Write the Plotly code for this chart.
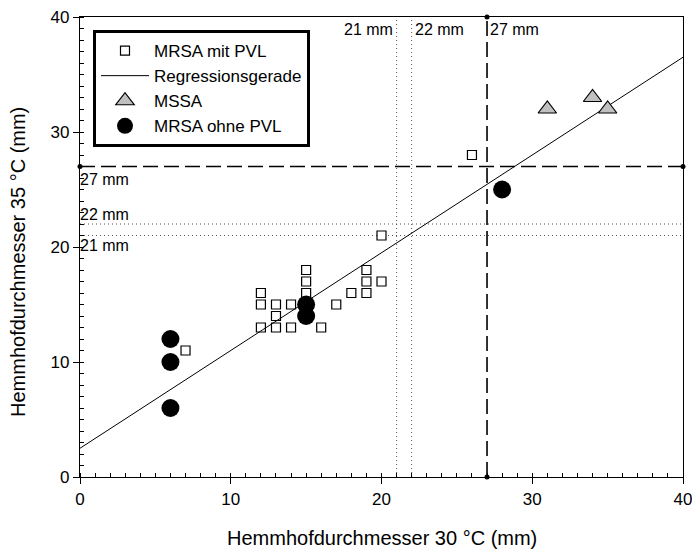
import plotly.graph_objects as go

# --- data ---
pvl_x = [7, 12, 12, 12, 13, 13, 13, 14, 14, 15, 15, 15, 15, 16, 17, 18, 19, 19, 19, 20, 20, 26]
pvl_y = [11, 16, 15, 13, 15, 14, 13, 15, 13, 18, 17, 16, 15, 13, 15, 16, 18, 17, 16, 21, 17, 28]
mssa_x = [31, 34, 35]
mssa_y = [32, 33, 32]
nopvl_x = [6, 6, 6, 15, 15, 28]
nopvl_y = [12, 10, 6, 15, 14, 25]
reg_x = [0, 40]
reg_y = [2.5, 36.5]
cut_dash = 27
cut_dot = [21, 22]
x_ticks = [0, 10, 20, 30, 40]
y_ticks = [0, 10, 20, 30, 40]

FONT = "Liberation Sans, Arial, sans-serif"

W, H = 692, 551
ML, MT, MR, MB = 80, 17, 9, 74
PW = W - ML - MR  # plot width in px
PH = H - MT - MB  # plot height in px


def px_to_paper_x(px):
    return (px - ML) / PW


def px_to_paper_y(py):
    return (MT + PH - py) / PH


fig = go.Figure()

# reference lines
fig.add_trace(go.Scatter(x=[cut_dash, cut_dash], y=[0, 40], mode="lines+markers",
                         line=dict(color="black", width=1.6, dash="15px,6px"),
                         marker=dict(size=5, color="black"), showlegend=False,
                         cliponaxis=False, hoverinfo="skip"))
fig.add_trace(go.Scatter(x=[0, 40], y=[cut_dash, cut_dash], mode="lines+markers",
                         line=dict(color="black", width=1.6, dash="15px,6px"),
                         marker=dict(size=5, color="black"), showlegend=False,
                         cliponaxis=False, hoverinfo="skip"))
for v in cut_dot:
    fig.add_trace(go.Scatter(x=[v, v], y=[0, 40], mode="lines",
                             line=dict(color="#555555", width=1, dash="1px,3px"),
                             showlegend=False, hoverinfo="skip"))
    fig.add_trace(go.Scatter(x=[0, 40], y=[v, v], mode="lines",
                             line=dict(color="#555555", width=1, dash="1px,3px"),
                             showlegend=False, hoverinfo="skip"))

fig.add_trace(go.Scatter(x=pvl_x, y=pvl_y, mode="markers", name="MRSA mit PVL",
                         marker=dict(symbol="square", size=9, color="white",
                                     line=dict(color="black", width=1.2))))
fig.add_trace(go.Scatter(x=reg_x, y=reg_y, mode="lines", name="Regressionsgerade",
                         line=dict(color="black", width=1)))
fig.add_trace(go.Scatter(x=mssa_x, y=mssa_y, mode="markers", name="MSSA",
                         marker=dict(symbol="triangle-up", size=16, color="#c0c0c0",
                                     line=dict(color="black", width=1.2))))
fig.add_trace(go.Scatter(x=nopvl_x, y=nopvl_y, mode="markers", name="MRSA ohne PVL",
                         marker=dict(symbol="circle", size=18, color="black",
                                     line=dict(color="black", width=0))))

ann_font = dict(family=FONT, size=16, color="black")
annotations = [
    dict(x=21, y=38.9, text="21 mm", xanchor="right", yanchor="middle", showarrow=False, font=ann_font, xshift=-2),
    dict(x=22, y=38.9, text="22 mm", xanchor="left", yanchor="middle", showarrow=False, font=ann_font, xshift=1),
    dict(x=27, y=38.9, text="27 mm", xanchor="left", yanchor="middle", showarrow=False, font=ann_font, xshift=1),
    dict(x=0, y=27, text="27 mm", xanchor="left", yanchor="top", showarrow=False, font=ann_font, xshift=-2, yshift=-2),
    dict(x=0, y=22, text="22 mm", xanchor="left", yanchor="bottom", showarrow=False, font=ann_font, xshift=-2, yshift=-1),
    dict(x=0, y=21, text="21 mm", xanchor="left", yanchor="top", showarrow=False, font=ann_font, xshift=-2, yshift=1),
    dict(x=0.5, xref="paper", y=px_to_paper_y(538), yref="paper", text="Hemmhofdurchmesser 30 °C (mm)",
         showarrow=False, font=dict(family=FONT, size=20, color="black"),
         xanchor="center", yanchor="middle"),
    dict(x=px_to_paper_x(18), xref="paper", y=px_to_paper_y(262), yref="paper",
         text="Hemmhofdurchmesser 35 °C (mm)", textangle=-90, showarrow=False,
         font=dict(family=FONT, size=20, color="black"),
         xanchor="center", yanchor="middle"),
]

axis_common = dict(
    showgrid=False, zeroline=False, showline=True, linecolor="black", linewidth=1.3,
    mirror=True, ticks="outside", ticklen=6, tickwidth=1, tickcolor="black",
    tickfont=dict(family=FONT, size=17, color="black"), automargin=False,
    ticklabeloverflow="allow",
    minor=dict(ticks="inside", dtick=1, ticklen=4, tickwidth=1, tickcolor="black"),
)

fig.update_layout(
    width=W, height=H,
    margin=dict(l=ML, r=MR, t=MT, b=MB),
    paper_bgcolor="white", plot_bgcolor="white",
    font=dict(family=FONT, color="black"),
    xaxis=dict(range=[0, 40], tickvals=x_ticks, ticktext=[str(t) for t in x_ticks], **axis_common),
    yaxis=dict(range=[0, 40], tickvals=y_ticks, ticktext=[str(t) for t in y_ticks], **axis_common),
    legend=dict(x=px_to_paper_x(93), y=px_to_paper_y(30), xanchor="left", yanchor="top",
                bgcolor="white", bordercolor="black", borderwidth=3,
                font=dict(family=FONT, size=17, color="black"),
                itemwidth=48, tracegroupgap=0),
    annotations=annotations,
    showlegend=True,
)

fig.write_html("out.html", config={"displayModeBar": False},
               post_script="document.body.style.margin='0px';")
